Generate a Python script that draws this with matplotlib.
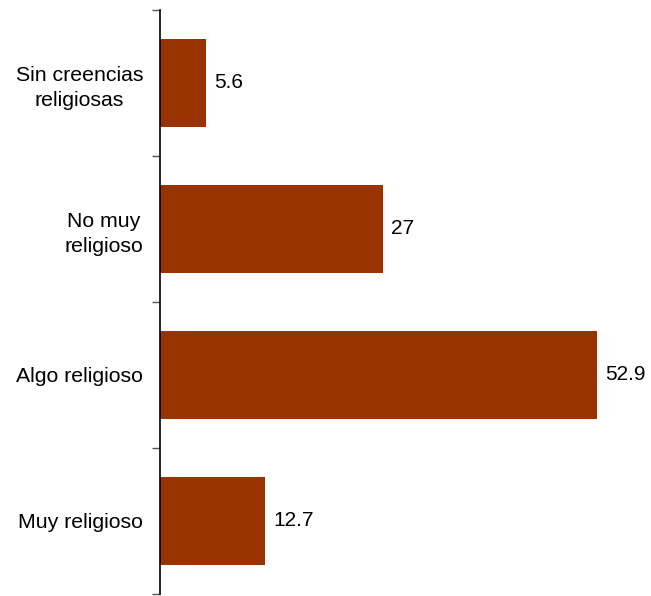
import matplotlib
matplotlib.use("Agg")
import matplotlib.pyplot as plt

# categorias de arriba hacia abajo
categorias = ["Sin creencias\nreligiosas", "No muy\nreligioso", "Algo religioso", "Muy religioso"]
valores = [5.6, 27, 52.9, 12.7]
etiquetas = ["5.6", "27", "52.9", "12.7"]

plt.rcParams['font.family'] = ['Liberation Sans', 'DejaVu Sans']

fig = plt.figure(figsize=(6.51, 5.96), dpi=100)
ax = fig.add_axes([160/651, 2/596, (645-160)/651, (586-2)/596])

pos = list(range(len(categorias)))
barras = ax.barh(pos, valores, height=0.6, color='#993300')
ax.set_ylim(len(categorias) - 0.5, -0.5)
ax.set_xlim(0, 485/8.26)

for b, txt in zip(barras, etiquetas):
    ax.text(b.get_width() + 1.0, b.get_y() + b.get_height()/2, txt,
            va='center', ha='left', fontsize=15, color='black')

# marcas en los limites de categoria, nombres en el centro
ax.set_yticks([p - 0.5 for p in pos] + [len(pos) - 0.5])
ax.set_yticklabels([])
ax.set_yticks(pos, minor=True)
ax.set_yticklabels(categorias, minor=True, fontsize=15.3, multialignment='center',
                   linespacing=1.4)
ax.tick_params(axis='y', which='major', length=6, width=1, color='#555555')
ax.tick_params(axis='y', which='minor', length=0, pad=12)

ax.set_xticks([])
for lado in ['top', 'right', 'bottom']:
    ax.spines[lado].set_visible(False)
ax.spines['left'].set_linewidth(1.2)

fig.savefig("out.png", dpi=100)
